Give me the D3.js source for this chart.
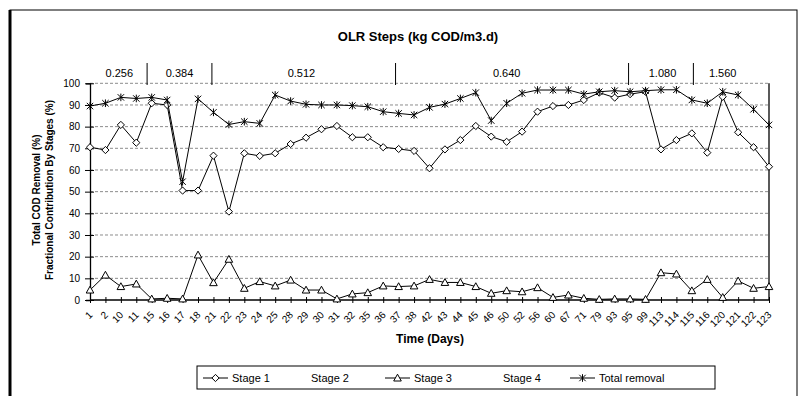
<!DOCTYPE html>
<html><head><meta charset="utf-8">
<script src="https://cdn.jsdelivr.net/npm/d3@7"></script>
<style>body{margin:0;background:#fff;} svg{display:block;font-family:"Liberation Sans",Arial,sans-serif;}</style>
</head><body><svg id="c" width="808" height="396"></svg>
<script>
const days = [1,2,10,11,15,16,17,18,21,22,23,24,25,28,29,30,31,32,35,36,37,38,42,43,44,45,46,50,52,56,60,67,71,79,93,95,99,113,114,115,116,120,121,122,123];
const stage1 = [70.5,69.2,80.8,72.6,90.8,90,50.5,50.5,66.6,40.8,67.7,66.5,67.7,72,74.9,78.8,80.3,75.1,75.1,70.5,69.7,68.8,60.8,69.5,73.8,80.3,75.4,73,77.7,86.9,89.5,90,92.3,95.7,93.4,95,96.1,69.5,73.8,76.9,68,93.8,77.4,70.5,61.5];
const stage3 = [4.6,11.5,6.2,7.4,0.5,0.8,0.5,20.8,8,18.8,5.4,8.5,6.5,9.2,4.6,4.6,0.5,2.8,3.4,6.5,6.2,6.5,9.5,8.1,8.1,6.2,3.1,4.3,3.8,5.7,1.2,2.3,0.8,0.3,0.5,0.5,0.3,12.6,12,4.3,9.5,1.2,8.8,5.4,6.2];
const totalRemoval = [89.5,90.8,93.5,93,93.5,92.3,54.6,92.8,86.6,81,82.3,81.5,94.6,91.8,90.3,90,90,89.7,89.2,86.9,86.1,85.4,88.9,90.4,93,95.7,82.8,90.8,95.4,96.9,96.9,96.9,95,96.1,96.6,96.1,96.6,97,97,92.3,90.8,96.1,94.6,88,80.8];
const yTicks = [0,10,20,30,40,50,60,70,80,90,100];
const olrLabels = ["0.256","0.384","0.512","0.640","1.080","1.560"];
const olrBounds = [3.7,7.9,19.8,34.9,39.1];      // in category-index units
const olrCenters = [1.9,5.8,13.7,27.0,37.1,41.0]; // in category-index units
const legendNames = ["Stage 1","Stage 2","Stage 3","Stage 4","Total removal"];
const legendMarkers = ["diamond",null,"triangle",null,"star"];

const svg = d3.select("#c");
const L = 90, R = 769, T = 83.3, B = 300;
const x = d3.scalePoint().domain(days.map(String)).range([L, R]);
const xi = d3.scaleLinear().domain([0, days.length - 1]).range([L, R]);
const y = d3.scaleLinear().domain([0, 100]).range([B, T]);

const markerPath = {
  diamond: "M0,-3.6L3.6,0L0,3.6L-3.6,0Z",
  triangle: "M0,-3.8L3.8,3L-3.8,3Z",
  star: "M-3.2,-3.2L3.2,3.2M-3.2,3.2L3.2,-3.2M0,-3.8L0,3.8"
};

// outer frame
svg.append("rect").attr("x", 10).attr("y", 10).attr("width", 787).attr("height", 390)
  .attr("fill", "none").attr("stroke", "#000").attr("stroke-width", 1);
svg.append("line").attr("x1", 10).attr("x2", 10).attr("y1", 10).attr("y2", 396)
  .attr("stroke", "#000").attr("stroke-width", 3);

// title
svg.append("text").attr("x", 418).attr("y", 41).attr("text-anchor", "middle")
  .attr("font-size", 13).attr("font-weight", "bold").text("OLR Steps (kg COD/m3.d)");

// gridlines
svg.append("g").selectAll("line").data(yTicks.filter(d => d > 0)).join("line")
  .attr("x1", L).attr("x2", R).attr("y1", d => y(d)).attr("y2", d => y(d))
  .attr("stroke", "#8c8c8c").attr("stroke-width", 1).attr("stroke-dasharray", "3,2");

// right border of plot
svg.append("line").attr("x1", R).attr("x2", R).attr("y1", y(100)).attr("y2", B)
  .attr("stroke", "#000").attr("stroke-width", 1.3);

// OLR step separators and labels
svg.append("g").selectAll("line").data(olrBounds).join("line")
  .attr("x1", d => xi(d)).attr("x2", d => xi(d)).attr("y1", 63).attr("y2", 85)
  .attr("stroke", "#000").attr("stroke-width", 1);
svg.append("g").selectAll("text").data(olrLabels).join("text")
  .attr("x", (d, i) => xi(olrCenters[i])).attr("y", 77).attr("text-anchor", "middle")
  .attr("font-size", 11).text(d => d);

// y axis
const yAxis = svg.append("g").attr("transform", `translate(${L},0)`)
  .call(d3.axisLeft(y).tickValues(yTicks).tickSize(4).tickPadding(6));
yAxis.select(".domain").attr("stroke-width", 1.3);
yAxis.selectAll(".tick line").attr("x1", 4).attr("x2", -5);
yAxis.selectAll("text").attr("font-size", 10).attr("font-family", "Liberation Sans, Arial, sans-serif");

// x axis
const xAxis = svg.append("g").attr("transform", `translate(0,${B})`)
  .call(d3.axisBottom(x).tickSize(3).tickPadding(5));
xAxis.select(".domain").attr("stroke-width", 1.3).attr("d", `M${L},0H${R}`);
xAxis.selectAll(".tick line").attr("y1", -3).attr("y2", 3);
xAxis.selectAll("text").attr("font-size", 10).attr("font-family", "Liberation Sans, Arial, sans-serif")
  .attr("text-anchor", "end").attr("dy", 0)
  .attr("transform", "translate(-3,10) rotate(-45)");

// series
const line = d3.line().x((d, i) => x(String(days[i]))).y(d => y(d));
const series = [
  {vals: stage1, m: "diamond"},
  {vals: stage3, m: "triangle"},
  {vals: totalRemoval, m: "star"}
];
series.forEach(s => {
  svg.append("path").datum(s.vals).attr("d", line).attr("fill", "none")
    .attr("stroke", "#000").attr("stroke-width", 1);
  svg.append("g").selectAll("path").data(s.vals).join("path")
    .attr("transform", (d, i) => `translate(${x(String(days[i]))},${y(d)})`)
    .attr("d", markerPath[s.m]).attr("fill", s.m === "star" ? "none" : "#fff")
    .attr("stroke", "#000").attr("stroke-width", 1);
});

// axis titles
svg.append("text").attr("x", 430).attr("y", 343).attr("text-anchor", "middle")
  .attr("font-size", 12).attr("font-weight", "bold").text("Time (Days)");
svg.append("text").attr("transform", "translate(40,190) rotate(-90)").attr("text-anchor", "middle")
  .attr("font-size", 10).attr("font-weight", "bold").text("Total COD Removal (%)");
svg.append("text").attr("transform", "translate(53,190) rotate(-90)").attr("text-anchor", "middle")
  .attr("font-size", 10).attr("font-weight", "bold").text("Fractional Contribution By Stages (%)");

// legend
svg.append("rect").attr("x", 197).attr("y", 366).attr("width", 518).attr("height", 23)
  .attr("fill", "#fff").attr("stroke", "#000").attr("stroke-width", 1);
const legX = [203, 282, 385, 474, 570];
const legItems = legendNames.map((name, i) => ({name, marker: legendMarkers[i], x: legX[i]}));
const lg = svg.append("g").selectAll("g").data(legItems).join("g")
  .attr("transform", d => `translate(${d.x},378)`);
const lgm = lg.filter(d => d.marker);
lgm.append("line").attr("x1", 0).attr("x2", 25).attr("stroke", "#000").attr("stroke-width", 1);
lgm.append("path").attr("transform", "translate(12.5,0)")
  .attr("d", d => markerPath[d.marker])
  .attr("fill", d => d.marker === "star" ? "none" : "#fff").attr("stroke", "#000");
lg.append("text").attr("x", 29).attr("y", 4).attr("font-size", 11).text(d => d.name);
</script></body></html>
